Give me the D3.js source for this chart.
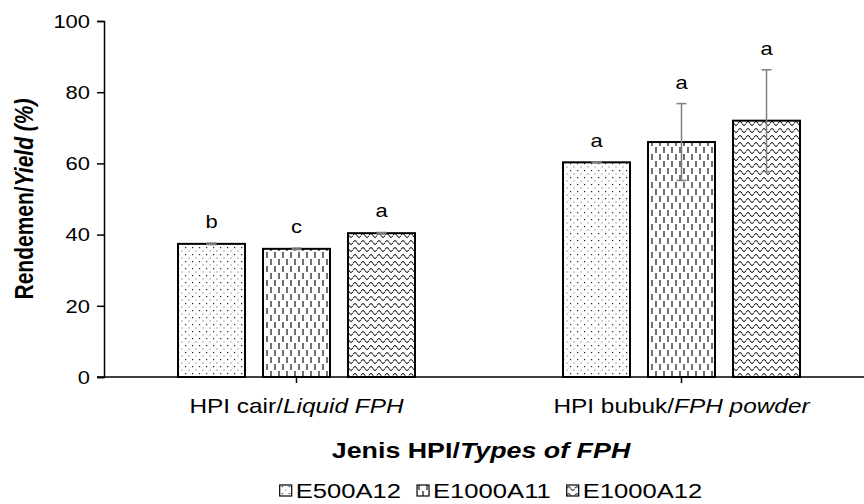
<!DOCTYPE html>
<html>
<head>
<meta charset="utf-8">
<script src="https://cdn.jsdelivr.net/npm/d3@7"></script>
<style>
  body { margin: 0; background: #fff; }
  svg { display: block; font-family: "Liberation Sans", Arial, sans-serif; }
</style>
</head>
<body>
<svg id="chart" width="864" height="504"></svg>
<script>
// categories and series
const categories = ["liquid", "powder"];
const categoryMain = ["HPI cair/", "HPI bubuk/"];
const categoryItalic = ["Liquid FPH", "FPH powder"];
const seriesNames = ["E500A12", "E1000A11", "E1000A12"];

// yield (%) per series, one value per category
const valE500A12 = [37.4, 60.3];
const valE1000A11 = [36.0, 66.0];
const valE1000A12 = [40.4, 72.0];

// standard deviations
const errE500A12 = [0.2, 0.1];
const errE1000A11 = [0.2, 10.8];
const errE1000A12 = [0.2, 14.3];

// significance letters
const letE500A12 = ["b", "a"];
const letE1000A11 = ["c", "a"];
const letE1000A12 = ["a", "a"];

const yTicks = [0, 20, 40, 60, 80, 100];

const values = [valE500A12, valE1000A11, valE1000A12];
const errors = [errE500A12, errE1000A11, errE1000A12];
const letters = [letE500A12, letE1000A11, letE1000A12];
const patternIds = ["pDots", "pDash", "pWave"];

const svg = d3.select("#chart");
const plotL = 104, plotR = 874, plotT = 21, plotB = 377;
// the original picture is stretched sideways, so text is widened too
const sx = 1.22;
const place = (x, yy) => `translate(${x},${yy}) scale(${sx},1)`;

// patterns
const defs = svg.append("defs");
const dots = defs.append("pattern").attr("id", "pDots")
    .attr("patternUnits", "userSpaceOnUse").attr("width", 7).attr("height", 7);
dots.append("rect").attr("width", 7).attr("height", 7).attr("fill", "#fff");
dots.append("rect").attr("x", 2).attr("y", 2).attr("width", 1.2).attr("height", 1.2).attr("fill", "#222");
dots.append("rect").attr("x", 5.5).attr("y", 5.5).attr("width", 1).attr("height", 1).attr("fill", "#555");

const dash = defs.append("pattern").attr("id", "pDash")
    .attr("patternUnits", "userSpaceOnUse").attr("width", 8).attr("height", 14);
dash.append("rect").attr("width", 8).attr("height", 14).attr("fill", "#fff");
dash.append("line").attr("x1", 2).attr("x2", 2).attr("y1", 0).attr("y2", 6)
    .attr("stroke", "#111").attr("stroke-width", 1.2);
dash.append("line").attr("x1", 6).attr("x2", 6).attr("y1", 7).attr("y2", 13)
    .attr("stroke", "#111").attr("stroke-width", 1.2);

const wave = defs.append("pattern").attr("id", "pWave")
    .attr("patternUnits", "userSpaceOnUse").attr("width", 8).attr("height", 7);
wave.append("rect").attr("width", 8).attr("height", 7).attr("fill", "#fff");
wave.append("path").attr("d", "M0,4.5 Q2,0.5 4,4.5 T8,4.5")
    .attr("fill", "none").attr("stroke", "#111").attr("stroke-width", 1);

// scales
const x0 = d3.scaleBand().domain(categories).range([plotL, plotR]).padding(0);
const x1 = d3.scaleBand().domain(seriesNames).range([0, 255])
    .paddingInner(0.212).paddingOuter(0.106);
const y = d3.scaleLinear().domain([0, 100]).range([plotB, plotT]);

// y axis
const yAxis = svg.append("g").attr("transform", `translate(${plotL},0)`)
    .call(d3.axisLeft(y).tickValues(yTicks).tickSize(7));
yAxis.select(".domain").attr("stroke", "#000").attr("stroke-width", 1.5);
yAxis.selectAll(".tick line").attr("stroke", "#000").attr("stroke-width", 1.5);
yAxis.selectAll(".tick text")
    .attr("x", null).attr("dy", "0.35em")
    .attr("transform", place(-14, 0))
    .attr("font-size", 18).attr("fill", "#000")
    .attr("font-family", "Liberation Sans, Arial, sans-serif");

// bars
const groups = svg.append("g").selectAll("g").data(categories).join("g")
    .attr("transform", d => `translate(${x0(d) + x0.bandwidth() / 2 - 127.5},0)`);

groups.each(function(cat, ci) {
  const g = d3.select(this);
  seriesNames.forEach((s, si) => {
    const v = values[si][ci];
    const e = errors[si][ci];
    const bx = x1(s), bw = x1.bandwidth();
    g.append("rect").attr("x", bx).attr("y", y(v))
      .attr("width", bw).attr("height", y(0) - y(v))
      .attr("fill", `url(#${patternIds[si]})`)
      .attr("stroke", "#000").attr("stroke-width", 2);
    const cx = bx + bw / 2;
    g.append("line").attr("x1", cx).attr("x2", cx)
      .attr("y1", y(v - e)).attr("y2", y(v + e))
      .attr("stroke", "#7f7f7f").attr("stroke-width", 1.5);
    [v - e, v + e].forEach(t => {
      g.append("line").attr("x1", cx - 5).attr("x2", cx + 5)
        .attr("y1", y(t)).attr("y2", y(t))
        .attr("stroke", "#7f7f7f").attr("stroke-width", 1.5);
    });
    g.append("text").attr("transform", place(cx, y(v + e) - 15))
      .attr("text-anchor", "middle").attr("font-size", 18)
      .text(letters[si][ci]);
  });
});

// x axis
svg.append("line").attr("x1", plotL - 7).attr("x2", 864)
  .attr("y1", plotB).attr("y2", plotB)
  .attr("stroke", "#000").attr("stroke-width", 1.5);
categories.forEach((c, i) => {
  const cx = x0(c) + x0.bandwidth() / 2;
  svg.append("line").attr("x1", cx).attr("x2", cx)
    .attr("y1", plotB).attr("y2", plotB + 6)
    .attr("stroke", "#000").attr("stroke-width", 1.5);
  const t = svg.append("text").attr("transform", place(cx, 413))
    .attr("text-anchor", "middle").attr("font-size", 20);
  t.append("tspan").text(categoryMain[i]);
  t.append("tspan").attr("font-style", "italic").text(categoryItalic[i]);
});

// axis titles
const xt = svg.append("text").attr("transform", place(481, 458))
  .attr("text-anchor", "middle").attr("font-size", 22).attr("font-weight", "bold");
xt.append("tspan").text("Jenis HPI/");
xt.append("tspan").attr("font-style", "italic").text("Types of FPH");

const yt = svg.append("text")
  .attr("transform", `${place(33, (plotT + plotB) / 2)} rotate(-90)`)
  .attr("text-anchor", "middle").attr("font-size", 21).attr("font-weight", "bold");
yt.append("tspan").text("Rendemen/");
yt.append("tspan").attr("font-style", "italic").text("Yield (%)");

// legend
const legend = svg.append("g");
let lx = 0;
seriesNames.forEach((s, i) => {
  const item = legend.append("g").attr("transform", `translate(${lx},0)`);
  item.append("rect").attr("x", 0).attr("y", -13).attr("width", 12).attr("height", 11)
    .attr("fill", `url(#${patternIds[i]})`).attr("stroke", "#000").attr("stroke-width", 1.2);
  const tx = item.append("text").attr("transform", place(16, 0))
    .attr("font-size", 21).text(s);
  lx += 16 + tx.node().getComputedTextLength() * sx + 16;
});
const lw = lx - 16;
legend.attr("transform", `translate(${491 - lw / 2},498)`);
</script>
</body>
</html>
